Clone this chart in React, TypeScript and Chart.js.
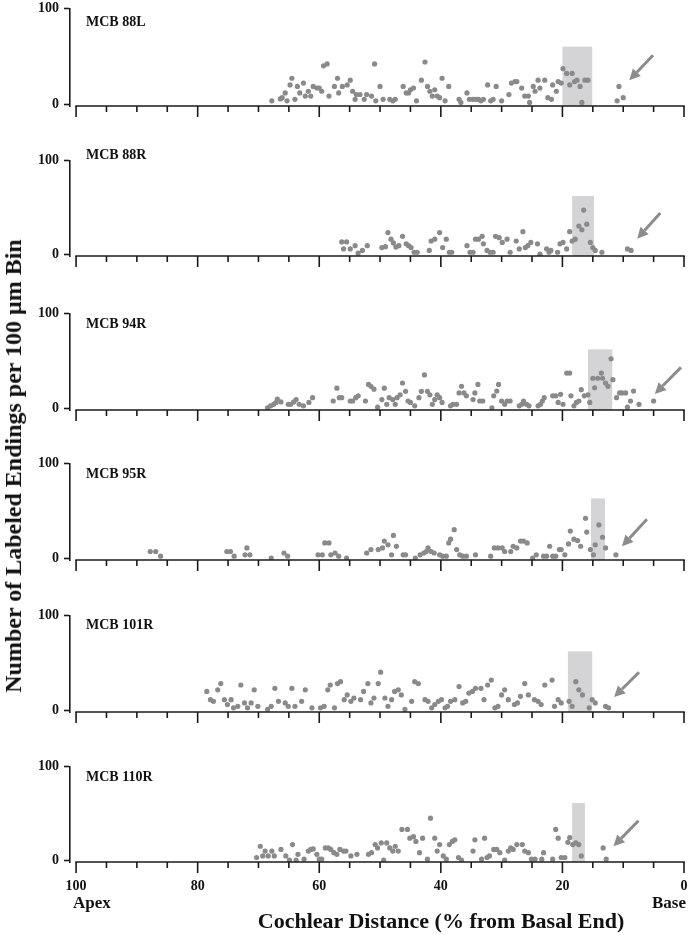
import React, { useEffect, useRef } from "react";
import { Chart, registerables } from "chart.js";
Chart.register(...registerables);

// ---------- data ----------
const panelNames = ["MCB 88L", "MCB 88R", "MCB 94R", "MCB 95R", "MCB 101R", "MCB 110R"];

const mcb88L: [number, number][] = [
  [67.8,3.4],[66.4,5.4],[66.1,6.7],[65.6,11.7],[65.3,3.4],[64.8,20],[64.5,27],[64.0,5],[63.6,18.5],[63.2,11.7],
  [62.6,22],[62.3,8.4],[61.8,13.4],[61.4,8.4],[61.0,18.5],[60.4,16.8],[60.0,16.8],[59.6,13.4],[59.3,40],[58.7,42],
  [58.4,8.4],[57.5,18.5],[57.0,27],[56.8,11.7],[56.2,18.5],[55.4,20],[54.9,25],[54.5,13.4],[54.1,5],[53.9,10],
  [53.3,10],[52.6,5],[52.2,10],[51.4,8.4],[50.9,42],[50.7,3.4],[50.0,18.5],[49.5,5],[48.4,5],[47.9,3.4],
  [47.5,5],[46.2,18.5],[45.7,11.7],[45.3,11.7],[45.0,15],[44.5,16.8],[44.0,3.4],[43.2,25],[42.6,44],[42.2,18.5],
  [41.8,13.4],[41.4,8.4],[41.0,15],[40.6,8.4],[40.2,6.7],[39.8,27],[39.3,3.4],[38.7,18.5],[37.0,5],[36.7,1.7],
  [35.7,11.7],[35.3,5],[34.7,5],[34.2,5],[33.8,5],[33.4,3.4],[33.0,5],[32.3,20],[31.8,3.4],[31.4,5],
  [30.9,18.5],[30.0,3.4],[28.8,10],[28.4,22],[27.8,23.5],[27.5,23.5],[26.7,16.8],[26.2,8.4],[25.6,8.4],[25.4,1.7],
  [24.8,18.5],[24.5,13.4],[24.0,25],[23.7,16.8],[22.9,25],[22.4,6.7],[21.8,5],[21.6,20],[21.0,13.4],[20.7,23.5],
  [20.2,22],[19.9,37],[19.3,32],[18.8,20],[18.4,32],[18.0,23.5],[17.6,25],[17.1,18.5],[16.8,1.7],[16.3,25],
  [15.8,25],[11.0,3.4],[10.7,18.5],[10.0,6.7]
];

const mcb88R: [number, number][] = [
  [56.3,13],[55.5,13],[56.0,5.5],[54.9,5.5],[54.1,9],[53.6,1],[52.9,4],[52.1,9],[49.7,7],[49.1,8],
  [48.7,23],[48.2,16],[47.8,12],[47.4,7.5],[46.9,9],[46.3,19],[45.7,11],[45.3,9],[44.9,7],[44.4,2],
  [43.9,2],[41.9,4],[41.6,14],[41.0,16],[40.2,23],[39.7,7],[39.1,16],[38.6,2],[38.2,2],[35.7,9],
  [35.2,2],[34.7,2],[34.3,16],[33.8,16],[33.2,19],[33.0,11],[32.4,4],[31.9,2],[31.4,2],[31.0,19],
  [30.4,17.5],[29.9,12.5],[29.1,16],[28.6,2],[27.6,14],[27.1,5.5],[26.5,24],[26.1,7],[25.7,9],[25.2,12.5],
  [24.1,11],[23.7,0],[22.6,5.5],[22.2,2],[21.9,4],[20.8,2],[20.4,11],[19.9,12.5],[19.3,5.5],[18.8,24],
  [18.4,14],[17.9,16],[17.3,30],[16.8,26],[16.5,47],[16.0,32],[15.4,12.5],[15.0,7],[14.6,4],[13.5,2],
  [9.3,5.5],[8.7,4]
];

const mcb94R: [number, number][] = [
  [68.5,0.3],[68.0,2.4],[67.5,4],[67.1,6],[66.9,9.5],[66.3,6.5],[65.1,4],[64.7,4],[64.2,6.5],[63.8,9],
  [63.3,4],[62.6,2.4],[61.7,6],[61.1,11],[57.7,7.5],[57.1,21],[56.7,11],[56.3,11],[54.9,7.5],[54.5,7.5],
  [54.0,11],[53.6,13],[52.4,7.5],[51.9,25],[51.5,23],[51.0,20],[50.4,1],[49.7,9],[49.3,21],[48.9,4],
  [48.5,11],[47.9,9],[47.5,4],[47.2,11],[46.7,14],[46.3,26.5],[45.8,17.7],[45.4,7.5],[45.0,6],[44.3,2.4],
  [43.6,11],[43.2,17.7],[42.7,35],[42.2,17.7],[41.8,14],[41.4,4],[41.0,9],[40.6,14],[40.2,11],[39.8,6],
  [38.4,2.4],[38.0,4],[37.4,4],[37.0,16],[36.6,23],[36.2,16],[35.8,13],[34.7,9],[34.4,16],[33.9,25],
  [33.6,7.5],[33.1,7.5],[31.6,0.3],[31.3,13],[30.8,18],[30.5,25],[30.0,7.5],[29.5,4],[29.1,7.5],[28.6,7.5],
  [27.1,2.4],[26.7,4],[26.4,7.5],[25.9,4],[25.5,2.4],[24.0,2.4],[23.6,4],[23.3,7.5],[23.0,11],[21.6,13],
  [21.1,13],[20.7,6],[20.3,14.5],[19.9,4],[19.3,37],[18.8,37],[18.6,13],[18.1,2.4],[17.7,6],[17.3,7.5],
  [16.9,19.5],[16.4,13],[15.8,14],[15.5,6],[15.0,31.5],[14.7,21.5],[14.2,31.5],[13.6,37],[13.4,31.5],[12.9,26.5],
  [12.5,23],[12.0,52],[11.7,30],[11.1,11],[10.6,16],[10.2,16],[9.6,16],[9.3,1],[8.8,7.5],[8.3,18],
  [7.4,4],[5.0,7.5]
];

const mcb95R: [number, number][] = [
  [87.8,7],[86.9,7],[86.1,2],[75.2,7],[74.6,7],[74.0,2],[72.2,3.5],[71.9,10.7],[71.4,3.5],[67.9,0],
  [65.8,5.4],[65.2,2],[60.2,3.5],[59.5,3.5],[59.1,16],[58.4,16],[58.1,3.5],[57.4,5.4],[56.8,2],[55.5,0],
  [52.2,5.4],[51.5,9],[50.3,9],[49.6,10.7],[49.3,18],[48.7,14],[48.1,3.5],[47.8,24],[47.3,12.5],[46.2,3.5],
  [45.8,3.5],[44.2,0],[43.4,3.5],[42.8,5.4],[42.4,7],[42.1,10.7],[41.6,7],[41.1,5.4],[40.2,3.5],[39.7,2],
  [39.1,2],[38.7,16],[38.4,20],[37.8,30],[37.4,9],[36.9,3.5],[36.4,2],[35.8,2],[34.3,3.5],[31.8,2],
  [31.2,10.7],[30.6,10.7],[29.9,10.7],[29.5,7],[28.5,7],[28.1,12.5],[27.5,10.7],[26.9,18],[26.4,18],[25.8,16],
  [24.9,0],[24.3,3.5],[23.1,2],[22.6,2],[22.1,12.5],[21.6,2],[21.1,2],[20.5,9],[20.2,9],[19.6,3.5],
  [19.0,15],[18.7,28.5],[18.1,20],[17.5,18.5],[17.0,12.5],[16.2,42],[16.0,27.5],[15.4,9],[14.9,3.5],[14.6,14],
  [14.0,35],[13.4,22],[12.9,10.7],[11.2,3.5]
];

const mcb101R: [number, number][] = [
  [78.5,19.7],[77.9,11],[77.4,9.3],[76.7,21.4],[76.2,28],[75.6,11],[75.1,5.9],[74.5,11],[74.1,2.4],[73.4,4],
  [72.9,26.5],[72.3,7.6],[71.8,2.4],[71.2,7.6],[70.7,21.4],[70.1,4],[68.5,0.7],[67.9,4],[67.3,23],[66.7,9.3],
  [65.6,7.6],[65.1,4],[64.5,23],[64.0,4],[62.9,9.3],[62.3,21.4],[61.2,2.4],[59.8,2.4],[59.2,4],[58.6,21.4],
  [58.2,26.5],[57.5,2.4],[57.0,28],[56.5,30],[55.9,11],[55.4,16],[54.8,9.3],[54.3,12.8],[53.2,11],[52.7,19.7],
  [52.0,28],[51.5,7.6],[51.0,12.8],[50.3,28],[49.9,40],[49.2,12.8],[48.7,4],[48.1,11],[47.6,19.7],[47.0,21.4],
  [46.5,16],[45.9,0.7],[44.8,9.3],[44.3,30],[43.7,28],[42.6,11],[42.1,9.3],[41.5,2.4],[41.0,5.9],[40.4,9.3],
  [39.9,11],[39.3,2.4],[38.9,4],[38.4,9.3],[37.7,11],[37.0,24.8],[36.4,7.6],[35.9,9.3],[35.4,18],[34.8,19.7],
  [34.3,23],[33.4,23],[32.9,11],[32.3,26.5],[31.7,31.7],[31.1,2.4],[30.6,4],[30.0,16],[29.5,21.4],[28.9,11],
  [27.9,5.9],[27.4,7.6],[26.9,14.5],[26.2,28],[25.6,16],[24.6,11],[24.0,9.3],[23.5,5.9],[22.9,26.5],[21.7,31.7],
  [21.3,4],[20.7,11],[20.2,7.6],[18.9,9.3],[18.4,4],[17.8,30],[17.3,21.4],[16.7,16],[15.6,2.4],[15.1,11],
  [14.6,7.6],[12.9,4],[12.4,2.4]
];

const mcb110R: [number, number][] = [
  [70.3,2.8],[69.7,14.8],[69.3,4.5],[68.9,9.7],[68.4,4.5],[67.8,9.7],[67.4,4.5],[66.3,11.4],[65.5,4.5],[64.9,0],
  [64.4,16.6],[63.8,0],[63.5,6.2],[62.5,1],[61.8,9.7],[61.4,11.4],[61.0,12],[60.4,6.2],[60.0,1],[59.6,1],
  [59.0,13],[58.5,13],[58.1,11.4],[57.6,8],[57.1,6.2],[56.6,11.4],[56.0,9.7],[55.6,9.7],[54.8,4.5],[53.8,6.2],
  [51.9,6.2],[51.4,8],[50.8,16.6],[50.4,13],[49.8,18.3],[49.4,0],[48.9,18.3],[48.4,13],[47.9,9.7],[47.5,14.8],
  [47.0,9.7],[46.4,32.8],[45.5,32.8],[45.1,23.4],[44.5,25],[44.1,20],[43.5,8],[43.0,23.4],[42.2,1],[41.7,44.8],
  [41.0,23.4],[40.6,9.7],[40.2,16.6],[39.6,4.5],[39.1,1],[38.6,16.6],[38.1,20],[37.7,21.7],[37.1,2.8],[36.6,0],
  [34.7,9.7],[34.4,21.7],[33.3,1],[32.8,23.4],[32.4,2.8],[32.0,4.5],[31.3,11.4],[30.8,11.4],[30.3,8],[29.5,0],
  [28.9,9.7],[28.5,13],[28.1,11.4],[27.5,16.6],[26.6,16.6],[26.2,9.7],[25.6,8],[25.1,1],[24.5,1],[23.4,1],
  [23.1,8],[21.6,1],[21.1,32.8],[20.7,23.4],[20.2,2.8],[19.6,2.8],[19.1,19],[18.8,24],[18.3,16.6],[17.8,18.3],
  [17.3,16.6],[16.9,4.5],[13.3,13],[12.8,1]
];

const panelPoints = [mcb88L, mcb88R, mcb94R, mcb95R, mcb101R, mcb110R];

// shaded bins: [from %, to %, height]
const shadedBins: [number, number, number][] = [
  [20.0, 15.1, 60], [18.4, 14.8, 62], [15.8, 11.8, 62], [15.3, 13.0, 63], [19.1, 15.1, 62], [18.4, 16.3, 61]
];
// arrows: tail and head in data units [x %, y]
const arrowTails: [number, number][] = [[5.1, 51], [3.9, 44], [0.5, 43], [6.1, 41], [7.4, 40], [7.5, 42]];
const arrowHeads: [number, number][] = [[9.0, 25], [7.7, 16.5], [4.8, 15], [10.2, 12.5], [11.5, 13.8], [11.6, 14.8]];

const xTickValues = [0, 5, 10, 15, 20, 25, 30, 35, 40, 45, 50, 55, 60, 65, 70, 75, 80, 85, 90, 95, 100];
const yTickValues = [0, 100];

// ---------- layout / style ----------
const W = 689;
const PAD_TOP = 12;
const plotTops = [7, 159, 312, 462, 614, 765];
const plotBottoms = [106, 256, 410, 560, 712, 862];
const nameOffsets = [14, -5, 11, 11, 10, 11];
const FONT = '"Liberation Serif", "Times New Roman", serif';
const DOT = "rgb(138,138,138)";
const SHADE = "rgb(212,212,214)";
const ARROW = "rgb(140,140,140)";
const AXIS = "#1a1a1a";

function drawArrow(ctx: CanvasRenderingContext2D, x1: number, y1: number, x2: number, y2: number) {
  const ang = Math.atan2(y2 - y1, x2 - x1);
  const head = 11, hw = 5.5;
  const bx = x2 - head * Math.cos(ang), by = y2 - head * Math.sin(ang);
  ctx.save();
  ctx.strokeStyle = ARROW;
  ctx.lineWidth = 3;
  ctx.beginPath();
  ctx.moveTo(x1, y1);
  ctx.lineTo(bx, by);
  ctx.stroke();
  ctx.fillStyle = ARROW;
  ctx.beginPath();
  ctx.moveTo(x2, y2);
  ctx.lineTo(bx + hw * Math.sin(ang), by - hw * Math.cos(ang));
  ctx.lineTo(bx - hw * Math.sin(ang), by + hw * Math.cos(ang));
  ctx.closePath();
  ctx.fill();
  ctx.restore();
}

function Panel({ i }: { i: number }) {
  const ref = useRef<HTMLCanvasElement>(null);
  const isLast = i === panelNames.length - 1;
  const plotH = plotBottoms[i] - plotTops[i];
  const xH = isLast ? 40 : 14;
  const h = PAD_TOP + plotH + xH;

  useEffect(() => {
    const decor = {
      id: "decor" + i,
      beforeDatasetsDraw(chart: any) {
        const { ctx, scales } = chart;
        const x = scales.x, y = scales.y;
        const [a, b, ht] = shadedBins[i];
        const x1 = x.getPixelForValue(a), x2 = x.getPixelForValue(b);
        const yt = y.getPixelForValue(ht), yb = chart.chartArea.bottom;
        ctx.save();
        ctx.fillStyle = SHADE;
        ctx.fillRect(Math.min(x1, x2), yt, Math.abs(x2 - x1), yb - yt);
        ctx.restore();
      },
      afterDraw(chart: any) {
        const { ctx, scales, chartArea } = chart;
        const x = scales.x, y = scales.y;
        const yAxis = chartArea.bottom;
        ctx.save();
        ctx.strokeStyle = AXIS;
        ctx.lineWidth = 1.6;
        ctx.beginPath();
        ctx.moveTo(x.getPixelForValue(100) - 0.8, yAxis);
        ctx.lineTo(x.getPixelForValue(0) + 0.8, yAxis);
        ctx.stroke();
        for (const v of xTickValues) {
          const px = x.getPixelForValue(v);
          const len = v % 20 === 0 ? 11 : 6;
          ctx.beginPath();
          ctx.moveTo(px, yAxis);
          ctx.lineTo(px, yAxis + len);
          ctx.stroke();
        }
        ctx.restore();
        const [tx, ty] = arrowTails[i];
        const [hx, hy] = arrowHeads[i];
        drawArrow(ctx, x.getPixelForValue(tx), y.getPixelForValue(ty), x.getPixelForValue(hx), y.getPixelForValue(hy));
        ctx.save();
        ctx.fillStyle = "#111";
        ctx.font = "bold 14px " + FONT;
        ctx.textBaseline = "middle";
        ctx.textAlign = "left";
        ctx.fillText(panelNames[i], chartArea.left + 16, chartArea.top + nameOffsets[i]);
        ctx.restore();
      },
    };

    const chart = new Chart(ref.current!, {
      type: "scatter",
      data: {
        datasets: [
          {
            data: panelPoints[i].map(([px, py]) => ({ x: px, y: py })),
            backgroundColor: DOT,
            borderWidth: 0,
            pointRadius: 2.6,
            pointHoverRadius: 2.6,
          },
        ],
      },
      options: {
        animation: false,
        responsive: false,
        events: [],
        layout: { padding: { top: PAD_TOP, right: 5, left: 0, bottom: 0 } },
        plugins: { legend: { display: false }, tooltip: { enabled: false } },
        scales: {
          x: {
            type: "linear",
            min: 0,
            max: 101,
            reverse: true,
            afterBuildTicks: (s: any) => {
              s.ticks = xTickValues.map((v) => ({ value: v }));
            },
            ticks: {
              display: isLast,
              autoSkip: false,
              maxRotation: 0,
              padding: 5,
              color: "#111",
              font: { family: FONT, size: 14, weight: "bold" },
              callback: (v: any) => (Number(v) % 20 === 0 ? String(v) : ""),
            },
            grid: { display: false, drawTicks: true, tickLength: 11 },
            border: { display: false },
            afterFit: (s: any) => {
              s.height = xH;
            },
          },
          y: {
            type: "linear",
            min: -2,
            max: 100,
            afterBuildTicks: (s: any) => {
              s.ticks = yTickValues.map((v) => ({ value: v }));
            },
            ticks: {
              padding: 5,
              color: "#111",
              font: { family: FONT, size: 14, weight: "bold" },
            },
            grid: {
              display: true,
              drawOnChartArea: false,
              drawTicks: true,
              tickLength: 6,
              tickColor: AXIS,
              tickWidth: 1.6,
              color: AXIS,
            },
            border: { display: true, color: AXIS, width: 1.6 },
            afterFit: (s: any) => {
              s.width = 70;
            },
          },
        },
      } as any,
      plugins: [decor],
    });
    return () => chart.destroy();
  }, [i]);

  return (
    <canvas
      ref={ref}
      width={W}
      height={h}
      style={{ position: "absolute", left: 0, top: plotTops[i] - PAD_TOP, width: W, height: h }}
    />
  );
}

const textBase: React.CSSProperties = {
  position: "absolute",
  fontFamily: FONT,
  fontWeight: "bold",
  color: "#111",
  whiteSpace: "nowrap",
  lineHeight: 1,
};

export default function App() {
  return (
    <div style={{ position: "absolute", left: 0, top: 0, width: W, height: 935, background: "#fff", overflow: "hidden" }}>
      {panelNames.map((_, i) => (
        <Panel key={i} i={i} />
      ))}
      <div
        style={{
          ...textBase,
          fontSize: 24,
          left: 13,
          top: 466,
          transform: "translate(-50%, -50%) rotate(-90deg)",
        }}
      >
        Number of Labeled Endings per 100 μm Bin
      </div>
      <div style={{ ...textBase, fontSize: 17, left: 73, top: 902, transform: "translateY(-50%)" }}>Apex</div>
      <div style={{ ...textBase, fontSize: 17, left: 686, top: 902, transform: "translate(-100%, -50%)" }}>Base</div>
      <div style={{ ...textBase, fontSize: 22, left: 441, top: 921, transform: "translate(-50%, -50%)" }}>
        Cochlear Distance (% from Basal End)
      </div>
    </div>
  );
}
